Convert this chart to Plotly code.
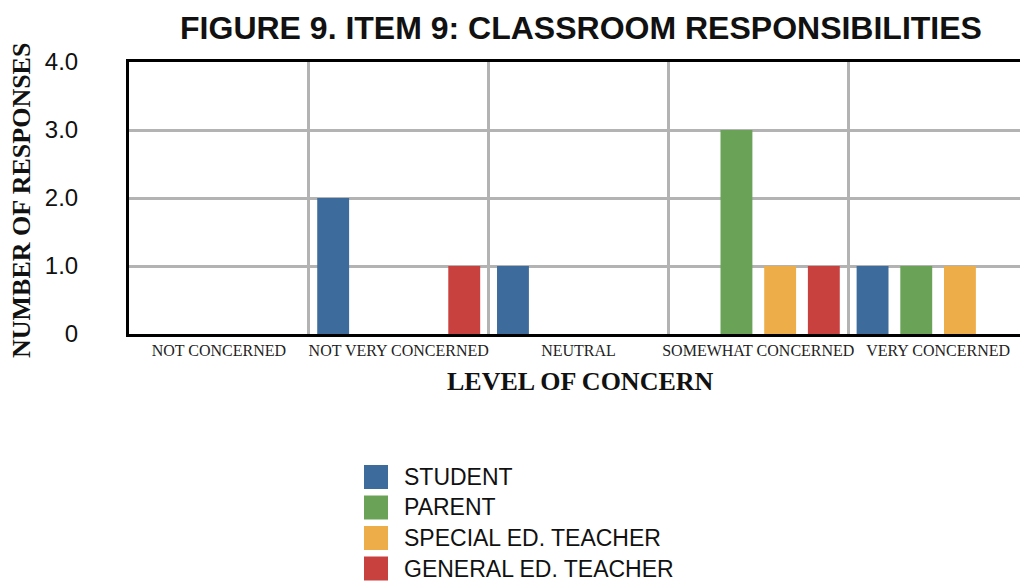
import plotly.graph_objects as go

categories = ["NOT CONCERNED", "NOT VERY CONCERNED", "NEUTRAL", "SOMEWHAT CONCERNED", "VERY CONCERNED"]
series_names = ["STUDENT", "PARENT", "SPECIAL ED. TEACHER", "GENERAL ED. TEACHER"]
student = [0, 2, 1, 0, 1]
parent = [0, 0, 0, 3, 1]
special_ed = [0, 0, 0, 1, 1]
general_ed = [0, 1, 0, 1, 0]
y_tickvals = [0, 1, 2, 3, 4]
y_ticktext = ["0", "1.0", "2.0", "3.0", "4.0"]

colors = ["#3d6b9c", "#6aa257", "#edae4a", "#c9413e"]
values = [student, parent, special_ed, general_ed]

# page has an 8px default body margin; size the figure so it fills the window
OFF = 8
W, H = 1028 - OFF, 581 - OFF
L, R, T, B = 129 - OFF, 0, 62 - OFF, 247
plot_w = W - L - R
plot_h = H - T - B

fig = go.Figure()
for name, vals, col in zip(series_names, values, colors):
    fig.add_trace(go.Bar(x=categories, y=vals, name=name, marker_color=col,
                         marker_line_width=0, showlegend=False))

def px2paper_x(page_px):
    return (page_px - OFF - L) / plot_w

def px2paper_y(page_py):
    return (H - B - (page_py - OFF)) / plot_h

# manual legend with large square swatches (page pixel positions)
sq_left, sq_size, row0, row_step, text_x = 364, 24, 465, 30.5, 402
for i, (name, col) in enumerate(zip(series_names, colors)):
    top = row0 + i * row_step
    fig.add_shape(type="rect", xref="paper", yref="paper",
                  x0=px2paper_x(sq_left), x1=px2paper_x(sq_left + sq_size),
                  y0=px2paper_y(top + sq_size), y1=px2paper_y(top),
                  fillcolor=col, line_width=0)
    fig.add_annotation(xref="paper", yref="paper", x=px2paper_x(text_x),
                       y=px2paper_y(top + sq_size / 2), text=name, showarrow=False,
                       xanchor="left", yanchor="middle",
                       font=dict(family="Liberation Sans, Arial", size=23, color="#111111"))

# axis titles as annotations for precise placement
fig.add_annotation(xref="paper", yref="paper", x=px2paper_x(21), y=px2paper_y(201),
                   text="<b>NUMBER OF RESPONSES</b>", textangle=-90, showarrow=False,
                   xanchor="center", yanchor="middle",
                   font=dict(family="Liberation Serif, Times New Roman", size=26, color="#111111"))
fig.add_annotation(xref="paper", yref="paper", x=px2paper_x(580), y=px2paper_y(381),
                   text="<b>LEVEL OF CONCERN</b>", showarrow=False,
                   xanchor="center", yanchor="middle",
                   font=dict(family="Liberation Serif, Times New Roman", size=26, color="#111111"))

fig.update_layout(
    width=W, height=H,
    margin=dict(l=L, r=R, t=T, b=B, autoexpand=False),
    paper_bgcolor="white", plot_bgcolor="white",
    barmode="group", bargap=0.028, bargroupgap=0.27,
    title=dict(text="<b>FIGURE 9. ITEM 9: CLASSROOM RESPONSIBILITIES</b>",
               x=(581 - OFF) / W, xref="container", xanchor="center",
               y=1 - (28 - OFF) / H, yref="container", yanchor="middle", automargin=False,
               font=dict(family="Liberation Sans, Arial", size=32, color="#111111")),
)
fig.update_xaxes(
    tickson="boundaries", showgrid=True, gridcolor="#b3b3b3", gridwidth=2.5,
    showline=True, linecolor="black", linewidth=3, mirror=True,
    ticks="", tickangle=0, automargin=False,
    tickfont=dict(family="Liberation Serif, Times New Roman", size=16, color="#222222"),
)
fig.update_yaxes(
    range=[0, 4], tickvals=y_tickvals, ticktext=y_ticktext,
    showgrid=True, gridcolor="#b3b3b3", gridwidth=2.5, zeroline=False,
    showline=True, linecolor="black", linewidth=3, automargin=False,
    ticks="", ticklabelstandoff=43,
    tickfont=dict(family="Liberation Sans, Arial", size=24, color="#111111"),
)

fig.write_html("out.html")
